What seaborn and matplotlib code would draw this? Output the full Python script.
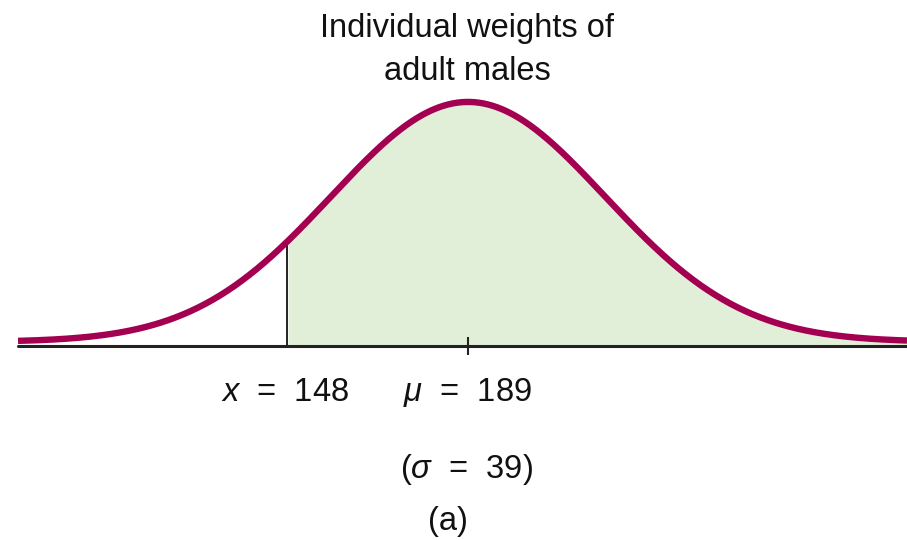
import numpy as np
import pandas as pd
import seaborn as sns
import matplotlib.pyplot as plt

# values shown on the figure
mean_weight = 189
sd_weight = 39
x_cut = 148
# width of the drawn bell (the sketch is narrower than sigma=39)
drawn_sd = 31
x_lo, x_hi = 87.1, 288.4

title_lines = ["Individual weights of", "adult males"]
cut_label = r"$x$  =  148"
mean_label = r"$\mu$  =  189"
sd_label = r"($\sigma$  =  39)"
panel_label = "(a)"


def bell(x, mu, sd):
    return np.exp(-0.5 * ((x - mu) / sd) ** 2) / (sd * np.sqrt(2 * np.pi))


sns.set_style("white")
plt.rcParams["font.family"] = ["Liberation Sans", "DejaVu Sans"]
plt.rcParams["mathtext.fontset"] = "custom"
plt.rcParams["mathtext.rm"] = "Liberation Sans"
plt.rcParams["mathtext.it"] = "Liberation Sans:italic"

W, H = 907, 540
fig = plt.figure(figsize=(W / 100, H / 100), dpi=100)
ax_bottom_px, ax_top_px = 346, 80
ax = fig.add_axes([18 / W, (H - ax_bottom_px) / H, 1 - 18 / W, (ax_bottom_px - ax_top_px) / H])

xs = np.linspace(x_lo, x_hi, 600)
df = pd.DataFrame({"weight": xs, "density": bell(xs, mean_weight, drawn_sd)})
peak = bell(mean_weight, mean_weight, drawn_sd)
px = peak / 236  # data units per pixel, vertically
lift = 4 * px  # the curve sits just above the axis line
df["density"] += lift

right = df[df["weight"] >= x_cut]
ax.fill_between(right["weight"], 0, right["density"], color="#E2EFD8", lw=0, zorder=1)
ax.vlines(x_cut, 0, bell(x_cut, mean_weight, drawn_sd) + lift, color="#222222", lw=1.4, zorder=2)
ax.axhline(0, color="#222222", lw=2.2, zorder=3, clip_on=False)
ax.plot([mean_weight], [0], marker="|", markersize=13, mew=1.5, color="#222222", zorder=3, clip_on=False)
sns.lineplot(data=df, x="weight", y="density", color="#A30052", lw=4.6, ax=ax, zorder=4,
             solid_capstyle="butt")

ax.set_xlim(x_lo, x_hi)
ax.set_ylim(0, peak * (ax_bottom_px - ax_top_px) / 240)
ax.set_axis_off()

fs = 23.5
def put(x, y, s):
    fig.text(x / W, 1 - y / H, s, ha="center", va="baseline", fontsize=fs, color="#111111")

put(467, 37, title_lines[0])
put(467, 80, title_lines[1])
put(285, 401, cut_label)
put(467, 401, mean_label)
put(467, 478, sd_label)
put(448, 530, panel_label)

fig.savefig("out.png", dpi=100)
